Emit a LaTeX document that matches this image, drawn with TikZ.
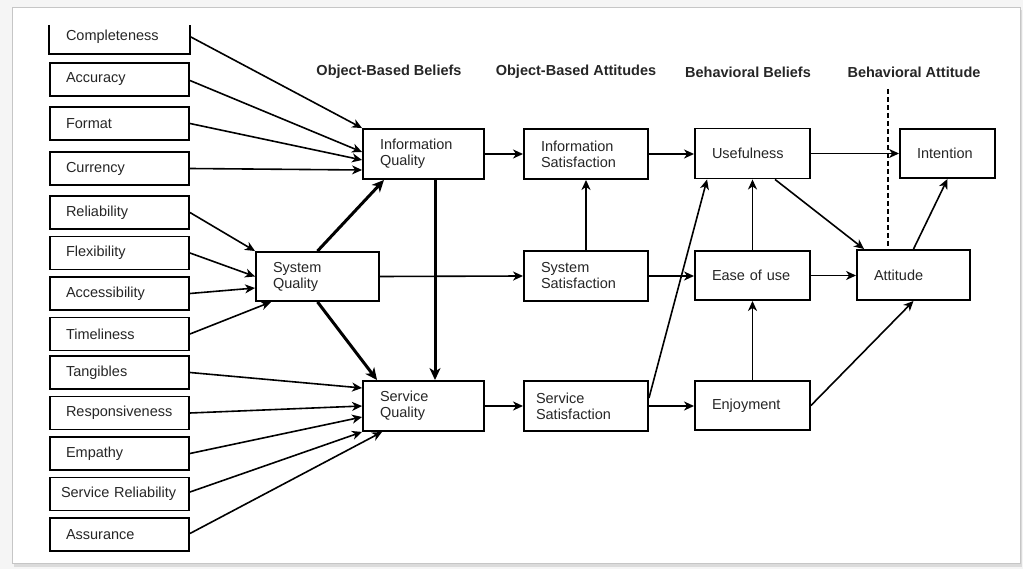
\documentclass[tikz,border=0pt]{standalone}
\usepackage{fontspec}
\setmainfont{Liberation Sans}
\usetikzlibrary{arrows.meta}
\newcommand{\boxfont}{\fontsize{14.5}{16}\selectfont\color{black!85}}
\newcommand{\headfont}{\fontsize{14.5}{16}\selectfont\bfseries\color{black!85}}
\tikzset{
  box/.style={draw, rectangle, line width=1.9pt, inner ysep=2pt, inner xsep=17pt, align=left, font=\boxfont},
  leftbox/.style={box, inner xsep=16pt, text width=107pt, minimum height=33pt},
  midbox/.style={box, minimum height=50pt},
  head/.style={font=\headfont, inner sep=0pt},
  arr/.style={line width=1.6pt, -{Stealth[length=10pt,width=9pt,inset=3pt]}},
  thickarr/.style={line width=3pt, -{Stealth[length=12pt,width=11pt,inset=3.5pt]}},
  divider/.style={line width=2.4pt, dash pattern=on 5pt off 3pt}
}
\begin{document}
\hyphenpenalty=10000
\begin{tikzpicture}[x=1pt, y=-1pt]
\useasboundingbox (0,0) rectangle (1023,569);
% page background and framed panel
\fill[gray!8] (0,0) rectangle (1023,569);
\fill[gray!28] (14,10) rectangle (1022,567);
\filldraw[fill=white, draw=gray!45, line width=0.8pt] (12,7) rectangle (1020,563);

% column headings
\node[head] (h1) at (389,72) {Object-Based Beliefs};
\node[head] (h2) at (576,72) {Object-Based Attitudes};
\node[head] (h3) at (748,72) {Behavioral Beliefs};
\node[head] (h4) at (914,72) {Behavioral Attitude};

% quality dimensions
\node[leftbox, draw=none] (compl) at (119.5,36.5) {Completeness};
\draw[line width=1.9pt] (compl.south west |- 0,25) -- (compl.south west) -- (compl.south east) -- (compl.south east |- 0,25);
\node[leftbox] (accur) at (119.5,79.5) {Accuracy};
\node[leftbox] (format) at (119.5,123.5) {Format};
\node[leftbox] (curr) at (119.5,168.5) {Currency};
\node[leftbox] (relia) at (119.5,212.5) {Reliability};
\node[leftbox] (flex) at (119.5,253) {Flexibility};
\node[leftbox] (access) at (119.5,293.5) {Accessibility};
\node[leftbox] (timely) at (119.5,334) {Timeliness};
\node[leftbox] (tang) at (119.5,372.5) {Tangibles};
\node[leftbox] (resp) at (119.5,413) {Responsiveness};
\node[leftbox] (empat) at (119.5,453.5) {Empathy};
\node[leftbox, inner xsep=11pt, text width=117pt] (srel) at (119.5,494) {Service Reliability};
\node[leftbox] (assur) at (119.5,534.5) {Assurance};

% object-based beliefs
\node[midbox, text width=87pt] (iq) at (423.5,154) {Information\\Quality};
\node[midbox, text width=89pt, minimum height=49pt] (sq) at (317.5,276.5) {System\\Quality};
\node[midbox, text width=87pt] (svq) at (423.5,406) {Service\\Quality};

% object-based attitudes
\node[midbox, text width=90pt] (isat) at (586,154) {Information\\Satisfaction};
\node[midbox, text width=90pt] (ssat) at (586,276) {System\\Satisfaction};
\node[midbox, inner xsep=12pt, text width=100pt] (vsat) at (586,406) {Service\\Satisfaction};

% behavioral beliefs
\node[midbox, text width=81pt] (use) at (752.5,153.5) {Usefulness};
\node[midbox, text width=81pt, minimum height=49pt] (ease) at (752.5,275.5) {Ease of use};
\node[midbox, text width=81pt, minimum height=49pt] (enjoy) at (752.5,405.5) {Enjoyment};

% behavioral attitude
\node[midbox, text width=61pt, minimum height=49pt] (intent) at (947.5,153.5) {Intention};
\node[midbox, text width=79pt] (att) at (913.5,275) {Attitude};

% dividing line
\coordinate (dtop) at (888,89);
\draw[divider] (dtop) -- (dtop |- att.north);

% information quality inputs
\draw[arr] (compl.east) -- (iq.north west);
\draw[arr] ([yshift=-1pt]accur.east) -- ([yshift=2pt]iq.west);
\draw[arr] (format.east) -- ([yshift=-6pt]iq.west);
\draw[arr] (curr.east) -- ([yshift=-16pt]iq.west);

% system quality inputs
\draw[arr] (relia.east) -- (sq.north west);
\draw[arr] (flex.east) -- (sq.west);
\draw[arr] (access.east) -- ([yshift=-11.5pt]sq.west);
\draw[arr] (timely.east) -- ([xshift=16pt]sq.south west);

% service quality inputs
\draw[arr] (tang.east) -- ([yshift=18pt]svq.west);
\draw[arr] (resp.east) -- (svq.west);
\draw[arr] (empat.east) -- ([yshift=-11pt]svq.west);
\draw[arr] ([yshift=2pt]srel.east) -- (svq.south west);
\draw[arr] ([yshift=1pt]assur.east) -- ([xshift=20pt]svq.south west);

% links between the quality constructs
\draw[thickarr] (sq.north) -- ([xshift=-39.5pt]iq.south);
\draw[thickarr] (sq.south) -- ([xshift=15pt]svq.north west);
\draw[thickarr] ([xshift=11.5pt]iq.south) -- ([xshift=11.5pt]iq.south |- svq.north);

% quality to satisfaction
\draw[arr] (iq.east) -- (isat.west);
\draw[arr] (sq.east) -- (ssat.west);
\draw[arr] (svq.east) -- (vsat.west);
\draw[arr] (ssat.north) -- (isat.south);

% satisfaction to behavioral beliefs
\draw[arr] (isat.east) -- (isat.east -| use.west);
\draw[arr] (ssat.east) -- (ssat.east -| ease.west);
\draw[arr] (vsat.east) -- (vsat.east -| enjoy.west);
\draw[arr] ([yshift=8pt]vsat.east) -- ([xshift=13pt]use.south west);
\draw[arr] (ease.north) -- (use.south);
\draw[arr] (enjoy.north) -- (ease.south);

% behavioral beliefs to attitude and intention
\draw[arr] (use.east) -- (intent.west);
\draw[arr] ([xshift=22.5pt]use.south) -- ([xshift=8pt]att.north west);
\draw[arr] (ease.east) -- (ease.east -| att.west);
\draw[arr] (enjoy.east) -- (att.south);
\draw[arr] (att.north) -- (intent.south);
\end{tikzpicture}
\end{document}
